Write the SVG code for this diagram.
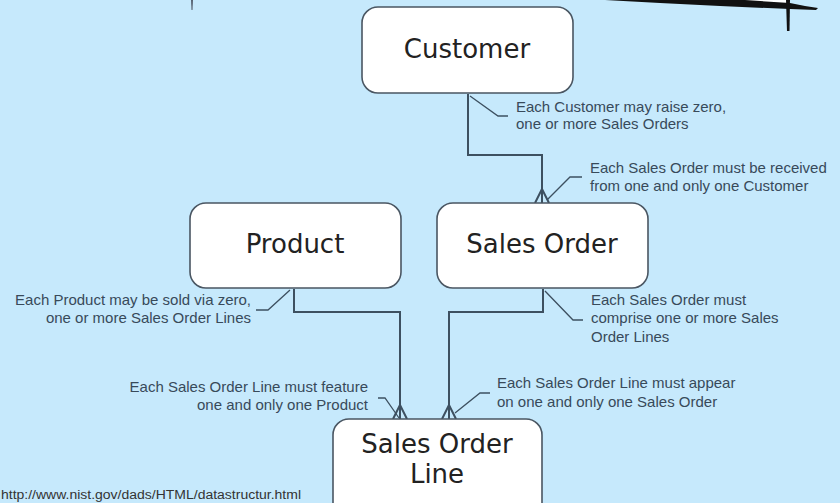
<svg xmlns="http://www.w3.org/2000/svg" width="840" height="503" viewBox="0 0 840 503">
  <defs>
    <style>
      .entity rect { fill: #ffffff; stroke: #4a5662; stroke-width: 1.6; }
      .entity text { font-family: "DejaVu Sans", Verdana, sans-serif; font-size: 26px; fill: #222222; text-anchor: middle; }
      .rel { fill: none; stroke: #3d5060; stroke-width: 2; }
      .lead { fill: none; stroke: #3d5060; stroke-width: 1.3; }
      .note { font-family: "Liberation Sans", Arial, sans-serif; font-size: 15px; fill: #384a5a; }
      .note.r { text-anchor: end; }
    </style>
  </defs>

  <!-- background -->
  <rect x="0" y="0" width="840" height="503" fill="#c6e9fc"/>

  <!-- torn-paper brush mark at the top edge -->
  <g id="scratch">
    <path d="M740,0 L790,0 L790,4 L760,2 Z" fill="#ffffff"/>
    <path d="M605,0 L745,0 L790,3 L805,6 L818,8 L816,10 L790,9 L720,6 L660,3 Z" fill="#111111"/>
    <path d="M786,0 L790,0 L789.5,31 L787,31 Z" fill="#111111"/>
    <path d="M191,0 L193,0 L192.5,10 L191.5,10 Z" fill="#556070"/>
  </g>

  <!-- relationships -->
  <g id="connectors">
    <!-- Customer to Sales Order -->
    <path class="rel" d="M468,94 V155 H542 V203"/>
    <path class="rel" d="M542,189 L535,203 M542,189 L549,203"/>
    <!-- Product to Sales Order Line -->
    <path class="rel" d="M294,289 V312 H400 V419"/>
    <path class="rel" d="M400,405 L393,419 M400,405 L407,419"/>
    <!-- Sales Order to Sales Order Line -->
    <path class="rel" d="M543,289 V312 H449 V419"/>
    <path class="rel" d="M449,405 L442,419 M449,405 L456,419"/>

    <!-- note leaders -->
    <path class="lead" d="M470,96 L498,116 H508"/>
    <path class="lead" d="M547,200 L570,177 H582"/>
    <path class="lead" d="M256,310 H268 L290,290"/>
    <path class="lead" d="M545,291 L573,320 H583"/>
    <path class="lead" d="M378,398 H385 L399,418"/>
    <path class="lead" d="M490,393 H480 L455,413"/>
  </g>

  <!-- entities -->
  <g id="customer" class="entity">
    <rect x="362" y="7" width="211" height="86" rx="16"/>
    <text x="467" y="58">Customer</text>
  </g>
  <g id="product" class="entity">
    <rect x="190" y="203" width="211" height="85" rx="16"/>
    <text x="295" y="253">Product</text>
  </g>
  <g id="sales-order" class="entity">
    <rect x="437" y="203" width="211" height="85" rx="16"/>
    <text x="542" y="253">Sales Order</text>
  </g>
  <g id="sales-order-line" class="entity">
    <rect x="333" y="419" width="209" height="100" rx="16"/>
    <text x="437" y="453">Sales Order</text>
    <text x="437" y="483">Line</text>
  </g>

  <!-- relationship statements -->
  <g id="notes">
    <text class="note" x="516" y="112">Each Customer may raise zero,</text>
    <text class="note" x="516" y="129">one or more Sales Orders</text>

    <text class="note" x="590" y="173">Each Sales Order must be received</text>
    <text class="note" x="590" y="191">from one and only one Customer</text>

    <text class="note r" x="251" y="305">Each Product may be sold via zero,</text>
    <text class="note r" x="251" y="323">one or more Sales Order Lines</text>

    <text class="note" x="591" y="305">Each Sales Order must</text>
    <text class="note" x="591" y="323">comprise one or more Sales</text>
    <text class="note" x="591" y="342">Order Lines</text>

    <text class="note r" x="368" y="392">Each Sales Order Line must feature</text>
    <text class="note r" x="368" y="410">one and only one Product</text>

    <text class="note" x="497" y="388">Each Sales Order Line must appear</text>
    <text class="note" x="497" y="407">on one and only one Sales Order</text>
  </g>

  <!-- source reference -->
  <text id="source" x="1" y="499" font-family="'Liberation Sans', Arial, sans-serif" font-size="12" fill="#333333" textLength="300" lengthAdjust="spacingAndGlyphs">http://www.nist.gov/dads/HTML/datastructur.html</text>
</svg>
